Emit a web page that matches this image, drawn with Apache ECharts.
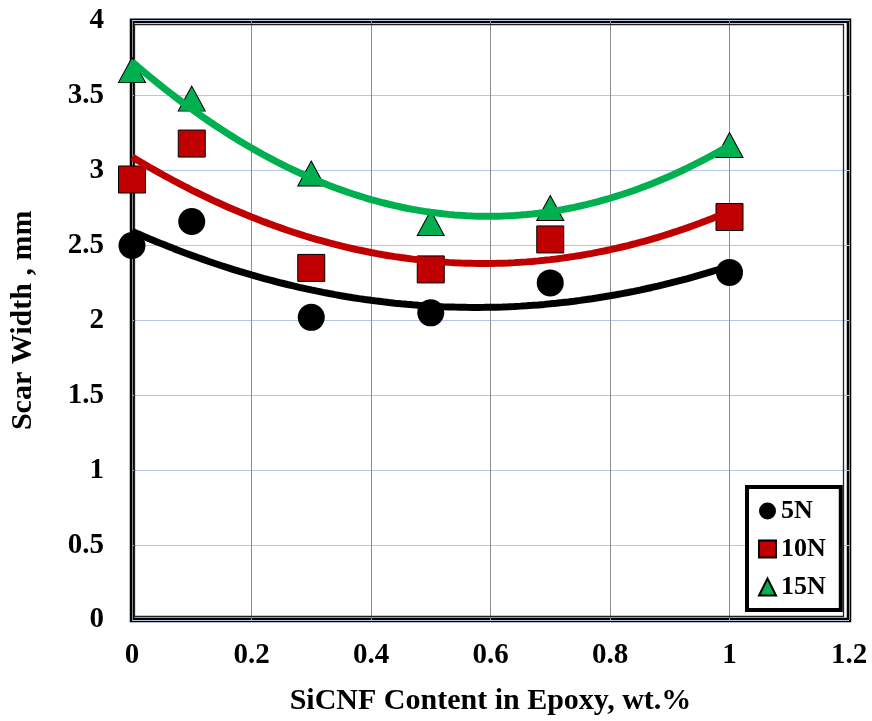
<!DOCTYPE html>
<html>
<head>
<meta charset="utf-8">
<script src="https://cdn.jsdelivr.net/npm/echarts@6/dist/echarts.min.js"></script>
<style>
html,body{margin:0;padding:0;background:#fff;}
#chart{width:872px;height:721px;}
</style>
</head>
<body>
<div id="chart"></div>
<script>
// ---- data ----
var contents = [0, 0.1, 0.3, 0.5, 0.7, 1.0];          // SiCNF content, wt.%
var scar5N  = [2.50, 2.66, 2.02, 2.05, 2.25, 2.32];   // 5N
var scar10N = [2.94, 3.18, 2.35, 2.34, 2.54, 2.69];   // 10N
var scar15N = [3.67, 3.48, 2.98, 2.65, 2.75, 3.17];   // 15N
var seriesNames = ['5N', '10N', '15N'];
var xTicks = [0, 0.2, 0.4, 0.6, 0.8, 1, 1.2];
var yTicks = [0, 0.5, 1, 1.5, 2, 2.5, 3, 3.5, 4];

// least-squares 2nd order polynomial trendline of each data set (as in the original spreadsheet)
function polyFit2(xs, ys) {
  var n = xs.length, s = [0,0,0,0,0], t = [0,0,0];
  for (var i = 0; i < n; i++) {
    var x = xs[i], y = ys[i], p = 1;
    for (var k = 0; k <= 4; k++) { s[k] += p; if (k <= 2) t[k] += p * y; p *= x; }
  }
  var A = [[s[0], s[1], s[2], t[0]], [s[1], s[2], s[3], t[1]], [s[2], s[3], s[4], t[2]]];
  for (var c = 0; c < 3; c++) {
    for (var r = c + 1; r < 3; r++) {
      var f = A[r][c] / A[c][c];
      for (var j = c; j < 4; j++) A[r][j] -= f * A[c][j];
    }
  }
  var b = [0,0,0];
  for (var r2 = 2; r2 >= 0; r2--) {
    var v = A[r2][3];
    for (var j2 = r2 + 1; j2 < 3; j2++) v -= A[r2][j2] * b[j2];
    b[r2] = v / A[r2][r2];
  }
  return b;
}
function trend(xs, ys) {
  var b = polyFit2(xs, ys), out = [];
  var x0 = xs[0], x1 = xs[xs.length - 1];
  for (var i = 0; i <= 100; i++) {
    var x = x0 + (x1 - x0) * i / 100;
    out.push([x, b[0] + b[1] * x + b[2] * x * x]);
  }
  return out;
}
function pairs(xs, ys) { return xs.map(function (x, i) { return [x, ys[i]]; }); }

var colors = ['#000000', '#C00000', '#00B050'];
var symbols = ['circle', 'rect', 'triangle'];
var sets = [scar5N, scar10N, scar15N];
var font = 'Liberation Serif, Times New Roman, serif';

var series = [];
sets.forEach(function (ys, i) {
  series.push({
    name: seriesNames[i] + ' trend',
    type: 'line',
    data: trend(contents, ys),
    showSymbol: false,
    symbol: 'none',
    smooth: false,
    lineStyle: { color: colors[i], width: 7, opacity: 1 },
    z: 4,
    silent: true
  });
});
sets.forEach(function (ys, i) {
  series.push({
    name: seriesNames[i],
    type: 'scatter',
    data: pairs(contents, ys),
    symbol: symbols[i],
    symbolSize: i === 2 ? [27, 25] : 27,
    itemStyle: {
      color: colors[i],
      opacity: 1,
      borderColor: '#000',
      borderWidth: i === 0 ? 0 : 1
    },
    z: 3
  });
});

var chart = echarts.init(document.getElementById('chart'), null, { renderer: 'canvas' });
chart.setOption({
  animation: false,
  backgroundColor: '#fff',
  grid: {
    left: 130, top: 20.7, width: 719, height: 600,
    show: true, borderColor: '#000', borderWidth: 4.5, backgroundColor: 'transparent'
  },
  graphic: [{
    type: 'rect', z: 1, silent: true,
    shape: { x: 134.5, y: 24.5, width: 709, height: 592 },
    style: { fill: 'none', stroke: '#222', lineWidth: 1.3 }
  }],
  legend: {
    orient: 'vertical',
    left: 747, top: 487,
    data: [
      { name: '5N', icon: 'circle' },
      { name: '10N', icon: 'rect' },
      { name: '15N', icon: 'triangle' }
    ],
    itemWidth: 17, itemHeight: 17, itemGap: 12,
    padding: [11, 15, 10, 11],
    borderColor: '#000', borderWidth: 4, backgroundColor: '#fff',
    textStyle: { fontFamily: font, fontWeight: 'bold', fontSize: 26, color: '#000', lineHeight: 25 },
    itemStyle: { borderColor: '#000', opacity: 1 }
  },
  xAxis: {
    type: 'value', min: 0, max: 1.2, interval: 0.2,
    name: 'SiCNF Content in Epoxy, wt.%',
    nameLocation: 'middle', nameGap: 66,
    nameTextStyle: { fontFamily: font, fontWeight: 'bold', fontSize: 30, color: '#000' },
    axisLine: { show: false }, axisTick: { show: false },
    axisLabel: {
      fontFamily: font, fontWeight: 'bold', fontSize: 29, color: '#000', margin: 21,
      formatter: function (v) { var t = xTicks.find(function (k) { return Math.abs(k - v) < 1e-9; }); return t === undefined ? '' : String(t); }
    },
    splitLine: { show: true, lineStyle: { color: '#8c8c8c', width: 1 } }
  },
  yAxis: {
    type: 'value', min: 0, max: 4, interval: 0.5,
    name: 'Scar Width , mm',
    nameLocation: 'middle', nameGap: 94, nameRotate: 90,
    nameTextStyle: { fontFamily: font, fontWeight: 'bold', fontSize: 30, color: '#000' },
    axisLine: { show: false }, axisTick: { show: false },
    axisLabel: {
      fontFamily: font, fontWeight: 'bold', fontSize: 29, color: '#000', margin: 28,
      formatter: function (v) { var t = yTicks.find(function (k) { return Math.abs(k - v) < 1e-9; }); return t === undefined ? '' : String(t); }
    },
    splitLine: { show: true, lineStyle: { color: '#b4c7e7', width: 1.2 } }
  },
  series: series
});
</script>
</body>
</html>
